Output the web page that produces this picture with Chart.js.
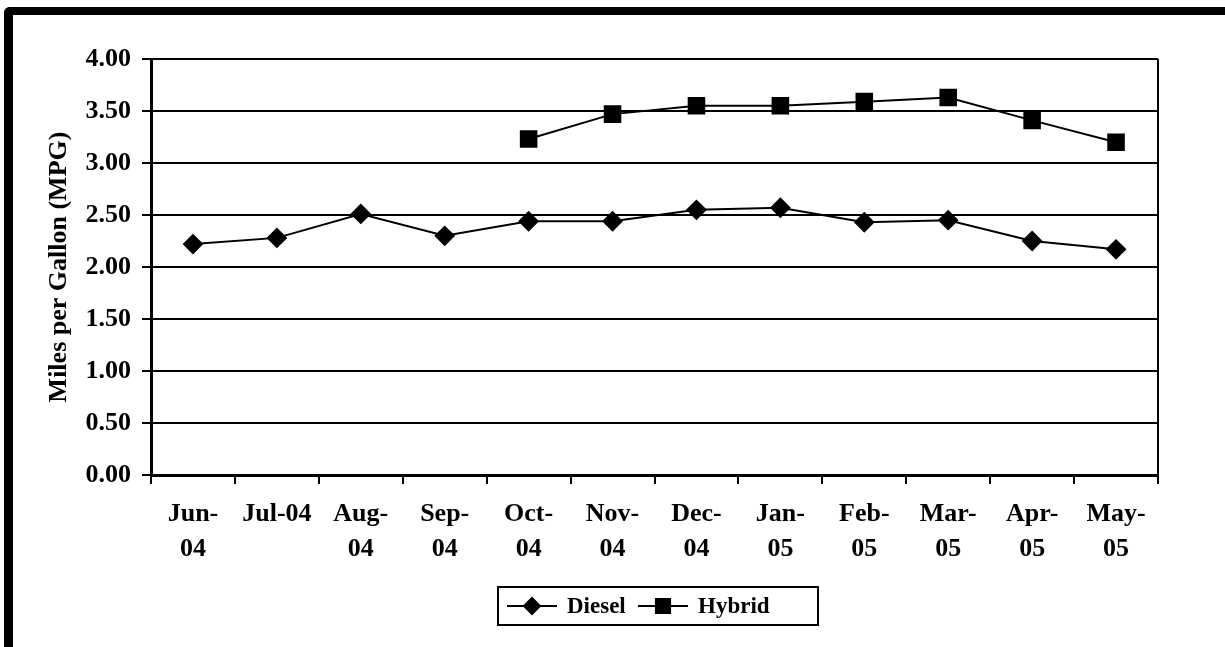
<!DOCTYPE html>
<html>
<head>
<meta charset="utf-8">
<script src="https://cdn.jsdelivr.net/npm/chart.js@4/dist/chart.umd.min.js"></script>
<style>
  html, body { margin: 0; padding: 0; background: #fff; overflow: hidden; }
  #wrap { position: relative; width: 1225px; height: 647px; }
  #frame {
    position: absolute; left: 4px; top: 7px; width: 1260px; height: 700px;
    border-left: 9px solid #000; border-top: 8px solid #000;
    border-top-left-radius: 6px; pointer-events: none;
  }
  canvas { position: absolute; left: 0; top: 0; }
</style>
</head>
<body>
<div id="wrap">
  <canvas id="mpgChart" width="1225" height="647"></canvas>
  <div id="frame"></div>
</div>
<script>
// Monthly fuel economy, June 2004 - May 2005
var months = [["Jun-", "04"], "Jul-04", ["Aug-", "04"], ["Sep-", "04"], ["Oct-", "04"], ["Nov-", "04"],
              ["Dec-", "04"], ["Jan-", "05"], ["Feb-", "05"], ["Mar-", "05"], ["Apr-", "05"], ["May-", "05"]];
var diesel = [2.22, 2.28, 2.51, 2.30, 2.44, 2.44, 2.55, 2.57, 2.43, 2.45, 2.25, 2.17];
// hybrid bus data starts in October
var hybrid = [null, null, null, null, 3.23, 3.47, 3.55, 3.55, 3.59, 3.63, 3.41, 3.20];
var yTicks = [0, 0.5, 1, 1.5, 2, 2.5, 3, 3.5, 4];

var serif = "'Liberation Serif', 'Times New Roman', serif";

// draws the right edge of the plot area and the boxed legend at the bottom
var framePlugin = {
    id: "framePlugin",
    afterDraw: function(chart) {
        var ctx = chart.ctx;
        var a = chart.chartArea;
        ctx.save();
        ctx.strokeStyle = "#000";
        ctx.lineWidth = 2;
        ctx.beginPath();
        ctx.moveTo(a.right, a.top);
        ctx.lineTo(a.right, a.bottom);
        ctx.stroke();

        // legend box
        var bx = 498, by = 587, bw = 320, bh = 38;
        ctx.strokeRect(bx, by, bw, bh);
        var cy = by + bh / 2;
        ctx.font = "bold 23px " + serif;
        ctx.fillStyle = "#000";
        ctx.textBaseline = "middle";
        var items = [
            { label: chart.data.datasets[0].label, style: "rectRot", r: 8, x: 507 },
            { label: chart.data.datasets[1].label, style: "rect", r: 10, x: 638 }
        ];
        items.forEach(function(it) {
            ctx.lineWidth = 2;
            ctx.beginPath();
            ctx.moveTo(it.x, cy);
            ctx.lineTo(it.x + 50, cy);
            ctx.stroke();
            Chart.helpers.drawPoint(ctx, { pointStyle: it.style, radius: it.r, borderWidth: 1 }, it.x + 25, cy);
            ctx.fill();
            ctx.fillText(it.label, it.x + 60, cy + 1);
        });
        ctx.restore();
    }
};

var ctx = document.getElementById("mpgChart").getContext("2d");
var chart = new Chart(ctx, {
    type: "line",
    data: {
        labels: months,
        datasets: [{
            label: "Diesel",
            data: diesel,
            borderColor: "#000",
            backgroundColor: "#000",
            borderWidth: 2,
            pointStyle: "rectRot",
            pointRadius: 9,
            pointHoverRadius: 9
        }, {
            label: "Hybrid",
            data: hybrid,
            borderColor: "#000",
            backgroundColor: "#000",
            borderWidth: 2,
            pointStyle: "rect",
            pointRadius: 11,
            pointHoverRadius: 11
        }]
    },
    options: {
        responsive: false,
        animation: false,
        layout: { padding: { left: 20, top: 59, right: 67, bottom: 0 } },
        plugins: {
            legend: { display: false },
            tooltip: { enabled: false }
        },
        scales: {
            x: {
                offset: true,
                grid: { offset: true, drawOnChartArea: false, drawTicks: true, tickLength: 9, color: "#000", lineWidth: 2 },
                border: { color: "#000", width: 3 },
                ticks: {
                    color: "#000",
                    maxRotation: 0,
                    autoSkip: false,
                    padding: 13,
                    font: { family: serif, size: 26, weight: "bold", lineHeight: 1.35 }
                },
                afterFit: function(scale) { scale.height = 172; }
            },
            y: {
                min: 0,
                max: 4,
                afterBuildTicks: function(scale) {
                    scale.ticks = yTicks.map(function(v) { return { value: v }; });
                },
                grid: { color: "#000", lineWidth: 2, tickLength: 9 },
                border: { color: "#000", width: 3 },
                ticks: {
                    color: "#000",
                    padding: 11,
                    font: { family: serif, size: 26, weight: "bold" },
                    callback: function(v) { return Number(v).toFixed(2); }
                },
                title: {
                    display: true,
                    text: "Miles per Gallon (MPG)",
                    color: "#000",
                    padding: { top: 24, bottom: 0 },
                    font: { family: serif, size: 26, weight: "bold" }
                },
                afterFit: function(scale) { scale.width = 131; }
            }
        }
    },
    plugins: [framePlugin]
});
</script>
</body>
</html>
